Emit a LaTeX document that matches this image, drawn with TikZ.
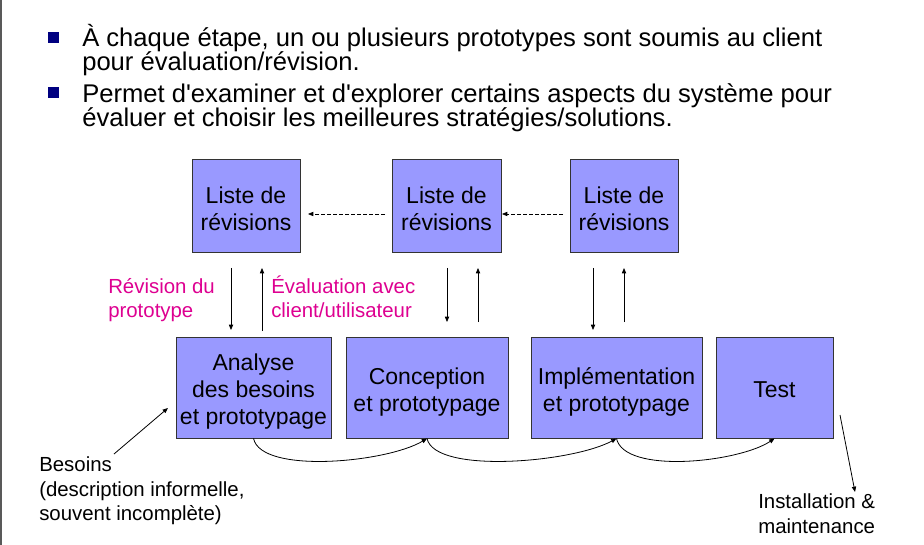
\documentclass[tikz,border=0pt]{standalone}
\usepackage{fontspec}
\setmainfont{Liberation Sans}
\usetikzlibrary{arrows.meta}
\definecolor{boxfill}{RGB}{153,153,255}
\definecolor{magtext}{RGB}{222,0,145}
\definecolor{bulletblue}{RGB}{0,0,128}
\begin{document}
\begin{tikzpicture}[x=0.75pt,y=-0.75pt,
  boxnode/.style={draw=black!80, line width=0.75pt, fill=boxfill, inner sep=0pt},
  boxtext/.style={inner sep=0pt, align=center, font=\fontsize{17.25pt}{20.25pt}\selectfont},
  arr/.style={-{Triangle[length=4pt,width=3.2pt]}, line width=0.6pt},
  dasharr/.style={arr, dash pattern=on 3pt off 1.5pt},
  bultext/.style={anchor=base west, inner sep=0pt, font=\fontsize{19.2pt}{18pt}\selectfont},
  smalltext/.style={anchor=base west, inner sep=0pt, font=\fontsize{15.3pt}{18pt}\selectfont},
  magstyle/.style={smalltext, text=magtext},
  bulsq/.style={fill=bulletblue, minimum size=8.25pt, inner sep=0pt}]

\useasboundingbox (0,0) rectangle (924,545);
\fill[white] (0,0) rectangle (924,545);
\draw[black!65, line width=1.1pt] (1,0) -- (1,545);

% bullets
\node[bulsq] (sq1) at (53.5,38) {};
\node[bulsq] (sq2) at (53.5,93) {};
\node[bultext] (b1a) at (82,47) {À chaque étape, un ou plusieurs prototypes sont soumis au client};
\node[bultext] (b1b) at (82,71) {pour évaluation/révision.};
\node[bultext] (b2a) at (82,103) {Permet d\textquotesingle examiner et d\textquotesingle explorer certains aspects du système pour};
\node[bultext] (b2b) at (82,127) {évaluer et choisir les meilleures stratégies/solutions.};

% top boxes
\node[boxnode, minimum width=81pt, minimum height=69.75pt] (l1) at (246,206.5) {};
\node[boxnode, minimum width=81.75pt, minimum height=69.75pt] (l2) at (446.5,206.5) {};
\node[boxnode, minimum width=81pt, minimum height=69.75pt] (l3) at (624,206.5) {};
\node[boxtext] (l1t) at (246,208.5) {Liste de\\révisions};
\node[boxtext] (l2t) at (446.5,208.5) {Liste de\\révisions};
\node[boxtext] (l3t) at (624,208.5) {Liste de\\révisions};

% bottom boxes
\node[boxnode, minimum width=116.25pt, minimum height=75.75pt] (an) at (253.5,387.5) {};
\node[boxnode, minimum width=121.5pt, minimum height=75.75pt] (co) at (427,387.5) {};
\node[boxnode, minimum width=128.25pt, minimum height=75.75pt] (im) at (616.5,387.5) {};
\node[boxnode, minimum width=87.75pt, minimum height=75.75pt] (te) at (774.5,387.5) {};
\node[boxtext] (ant) at (253.5,391.5) {Analyse\\des besoins\\et prototypage};
\node[boxtext] (cot) at (427,392) {Conception\\et prototypage};
\node[boxtext] (imt) at (616.5,392) {Implémentation\\et prototypage};
\node[boxtext] (tet) at (774.5,389.5) {Test};

% magenta labels
\node[magstyle] (r1) at (108,293) {Révision du};
\node[magstyle] (r2) at (108,317) {prototype};
\node[magstyle] (e1) at (271,293) {Évaluation avec};
\node[magstyle] (e2) at (271,317) {client/utilisateur};

% other labels
\node[smalltext] (s1) at (39,471) {Besoins};
\node[smalltext] (s2) at (39,496) {(description informelle,};
\node[smalltext] (s3) at (39,520) {souvent incomplète)};
\node[smalltext] (i1) at (758,508) {Installation \&};
\node[smalltext] (i2) at (758,533) {maintenance};

% coordinates for floating arrows
\coordinate (d1a) at (231,268); \coordinate (d1b) at (231,330);
\coordinate (u1a) at (262,331); \coordinate (u1b) at (262,268);
\coordinate (d2a) at (447,268); \coordinate (d2b) at (447,322);
\coordinate (u2a) at (478,322); \coordinate (u2b) at (478,268);
\coordinate (d3a) at (593,268); \coordinate (d3b) at (593,330);
\coordinate (u3a) at (624,322); \coordinate (u3b) at (624,268);
\coordinate (h2a) at (385,214); \coordinate (h2b) at (308,214);
\coordinate (h3a) at (563,214); \coordinate (h3b) at (502,214);
\coordinate (ba) at (114,454); \coordinate (bb) at (168,408);
\coordinate (ta) at (840,415); \coordinate (tb) at (855,492);

\draw[arr] (d1a) -- (d1b);
\draw[arr] (u1a) -- (u1b);
\draw[arr] (d2a) -- (d2b);
\draw[arr] (u2a) -- (u2b);
\draw[arr] (d3a) -- (d3b);
\draw[arr] (u3a) -- (u3b);
\draw[dasharr] (h2a) -- (h2b);
\draw[dasharr] (h3a) -- (h3b);
\draw[arr] (ba) -- (bb);
\draw[arr] (ta) -- (tb);

% curved arrows
\draw[arr] (an.south) .. controls +(8,36) and +(-40,24) .. (co.south);
\draw[arr] (co.south) .. controls +(8,36) and +(-44,24) .. (im.south);
\draw[arr] (im.south) .. controls +(8,36) and +(-36,24) .. (te.south);
\end{tikzpicture}
\end{document}
